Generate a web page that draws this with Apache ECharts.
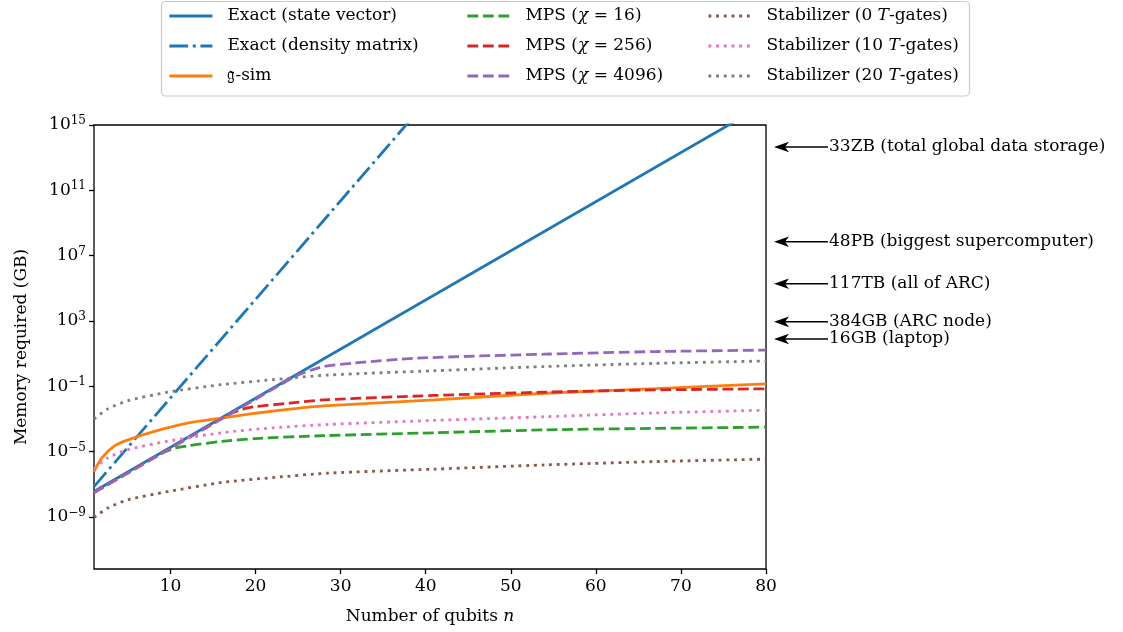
<!DOCTYPE html>
<html><head><meta charset="utf-8">
<script src="https://cdn.jsdelivr.net/npm/echarts@6/dist/echarts.min.js"></script>
<style>html,body{margin:0;padding:0;background:#fff}#c{width:1123px;height:632px}</style>
</head><body><div id="c"></div>
<script>
const FONT = 'DejaVu Serif';

// ---- data (memory in GB vs number of qubits n) ----
const exactSV_n = [1, 80];
const exactSV_v = [3.5e-8, 2.1e16];

const exactDM_n = [1, 40];
const exactDM_v = [7.1e-8, 2.5e16];

const gsim_n = [1, 1.9, 3.4, 5, 8, 12, 16, 20, 24, 28, 41, 54, 67, 80];
const gsim_v = [5.9e-7, 3.9e-6, 2.2e-5, 5.1e-5, 1.66e-4, 5.5e-4, 1.1e-3, 2.2e-3, 3.9e-3, 6.2e-3, 1.45e-2, 3.7e-2, 7.1e-2, 0.138];

const mps16_n = [1, 5, 9, 10.5, 12, 16, 20, 28, 41, 54, 67, 80];
const mps16_v = [3.1e-8, 5e-7, 8e-6, 1.6e-5, 2.2e-5, 4.1e-5, 6.2e-5, 9.3e-5, 1.4e-4, 2.1e-4, 2.6e-4, 3.1e-4];

const mps256_n = [1, 6, 11, 15, 17, 18.5, 20, 24, 28, 41, 54, 67, 80];
const mps256_v = [3.1e-8, 1e-6, 3.2e-5, 5.1e-4, 2.0e-3, 3.9e-3, 5.6e-3, 9.1e-3, 1.45e-2, 2.7e-2, 4.3e-2, 5.9e-2, 6.9e-2];

const mps4096_n = [1, 8, 15, 20, 23, 25, 26.5, 28, 31.5, 39, 54, 67, 80];
const mps4096_v = [3.1e-8, 3.9e-6, 5e-4, 1.6e-2, 0.13, 0.48, 0.95, 1.6, 2.6, 5.2, 9.1, 13.2, 16.2];

const stab0_n = [1, 2.6, 5, 9.7, 16, 22, 28.5, 41, 54, 67, 80];
const stab0_v = [8.9e-10, 3.4e-9, 1.1e-8, 3.5e-8, 1.26e-7, 2.5e-7, 4.7e-7, 8.3e-7, 1.5e-6, 2.4e-6, 3.4e-6];

const stab10_n = [1, 2.6, 5, 9.7, 16, 22, 28.5, 41, 54, 67, 80];
const stab10_v = [9e-7, 4e-6, 1.3e-5, 4.3e-5, 1.4e-4, 2.8e-4, 4.5e-4, 8e-4, 1.35e-3, 2.3e-3, 3.4e-3];

const stab20_n = [1, 2.6, 5, 9.7, 16, 22, 28.5, 41, 54, 67, 80];
const stab20_v = [9.5e-4, 4e-3, 1.3e-2, 4.3e-2, 0.125, 0.25, 0.48, 0.88, 1.6, 2.5, 3.5];

const xTicks = [10, 20, 30, 40, 50, 60, 70, 80];
const yTicks = [1e-9, 1e-5, 1e-1, 1e3, 1e7, 1e11, 1e15];
const yMin = Math.pow(10, -12.2);
const yMax = 1.001e15;

const annotLabels = ['33ZB (total global data storage)', '48PB (biggest supercomputer)', '117TB (all of ARC)', '384GB (ARC node)', '16GB (laptop)'];
const annotY = [4.5e13, 7.0e7, 1.9e5, 8.7e2, 78];

const names = ['Exact (state vector)', 'Exact (density matrix)', '\u{1D524}-sim',
  'MPS (χ = 16)', 'MPS (χ = 256)', 'MPS (χ = 4096)',
  'Stabilizer (0 T-gates)', 'Stabilizer (10 T-gates)', 'Stabilizer (20 T-gates)'];
const legendRich = {
  'MPS (χ = 16)': 'MPS ({i|χ} = 16)',
  'MPS (χ = 256)': 'MPS ({i|χ} = 256)',
  'MPS (χ = 4096)': 'MPS ({i|χ} = 4096)',
  'Stabilizer (0 T-gates)': 'Stabilizer (0 {i|T}-gates)',
  'Stabilizer (10 T-gates)': 'Stabilizer (10 {i|T}-gates)',
  'Stabilizer (20 T-gates)': 'Stabilizer (20 {i|T}-gates)'
};
const colors = ['#1f77b4', '#1f77b4', '#ff7f0e', '#2ca02c', '#d62728', '#9467bd', '#8c564b', '#e377c2', '#7f7f7f'];

// ---- build ----
const zip = (a, b) => a.map((x, i) => [x, b[i]]);
const dataSets = [
  zip(exactSV_n, exactSV_v), zip(exactDM_n, exactDM_v), zip(gsim_n, gsim_v),
  zip(mps16_n, mps16_v), zip(mps256_n, mps256_v), zip(mps4096_n, mps4096_v),
  zip(stab0_n, stab0_v), zip(stab10_n, stab10_v), zip(stab20_n, stab20_v)
];
const dashSolid = 'solid';
const dashDash = [10.8, 4.7];
const dashDot = [2.9, 4.8];
const dashDashDot = [18.7, 4.7, 2.9, 4.7];
const styles = [dashSolid, dashDashDot, dashSolid, dashDash, dashDash, dashDash, dashDot, dashDot, dashDot];
const smoothFlags = [false, false, 0.25, 0.25, 0.25, 0.25, 0.25, 0.25, 0.25];

const series = dataSets.map((d, i) => ({
  name: names[i], type: 'line', data: d, symbol: 'none', showSymbol: false,
  smooth: smoothFlags[i], clip: true, animation: false,
  lineStyle: { color: colors[i], width: 2.8, type: styles[i], cap: 'butt' },
  itemStyle: { color: colors[i] },
  z: 2 + i
}));

const textBase = { fontFamily: FONT, fontSize: 17, color: '#000' };
const richItalic = { i: { fontFamily: FONT, fontSize: 17, fontStyle: 'italic', color: '#000' } };

function mkLegend(items, left) {
  return {
    data: items, left: left, top: 6, orient: 'vertical', padding: 0,
    itemWidth: 43, itemHeight: 14, itemGap: 10,
    itemStyle: { opacity: 0 },
    lineStyle: { width: 2.8 },
    textStyle: Object.assign({}, textBase, { lineHeight: 20, padding: [0, 0, 0, 10], rich: richItalic }),
    formatter: n => legendRich[n] || n,
    selectedMode: false
  };
}

const yPow = v => Math.round(Math.log10(v));
const chart = echarts.init(document.getElementById('c'), null, { renderer: 'canvas' });
chart.setOption({
  animation: false,
  backgroundColor: '#fff',
  grid: { left: 94, right: 357, top: 125, bottom: 63, show: true, borderColor: '#000', borderWidth: 1.3, backgroundColor: 'transparent', containLabel: false },
  legend: [
    mkLegend(names.slice(0, 3), 168),
    mkLegend(names.slice(3, 6), 466),
    mkLegend(names.slice(6, 9), 707)
  ],
  xAxis: {
    type: 'value', min: 1, max: 80,
    name: 'Number of qubits {i|n}', nameLocation: 'middle', nameGap: 39,
    nameTextStyle: Object.assign({}, textBase, { rich: richItalic }),
    axisLine: { show: false },
    axisTick: { show: true, length: 5, lineStyle: { color: '#000', width: 1.3 }, customValues: xTicks },
    axisLabel: Object.assign({}, textBase, { margin: 9, customValues: xTicks, showMaxLabel: true }),
    splitLine: { show: false }
  },
  yAxis: {
    type: 'log', logBase: 10, min: yMin, max: yMax,
    name: 'Memory required (GB)', nameLocation: 'middle', nameGap: 64, nameRotate: 90,
    nameTextStyle: textBase,
    axisLine: { show: false },
    axisTick: { show: true, length: 5, lineStyle: { color: '#000', width: 1.3 }, customValues: yTicks },
    axisLabel: Object.assign({}, textBase, {
      margin: 8, customValues: yTicks, showMaxLabel: true, showMinLabel: true, hideOverlap: false,
      formatter: v => { const p = yPow(v); return '10{s|' + (p < 0 ? '\u2212' + (-p) : p) + '}'; },
      rich: { s: { fontFamily: FONT, fontSize: 12, color: '#000', verticalAlign: 'top', padding: [0, 0, 8, 0] } }
    }),
    splitLine: { show: false }
  },
  series: series
});

function drawAnnotations() {
  const xr = chart.convertToPixel({ xAxisIndex: 0 }, 80);
  const g = [];
  g.push({ type: 'rect', shape: { x: 161.5, y: 1.5, width: 808, height: 94.5, r: 4 },
    style: { fill: 'rgba(255,255,255,0.8)', stroke: '#cccccc', lineWidth: 1.2 }, z: -1, silent: true });
  annotY.forEach((v, i) => {
    const y = chart.convertToPixel({ yAxisIndex: 0 }, v);
    const tip = xr + 8, tail = xr + 62;
    g.push({ type: 'line', shape: { x1: tip + 10, y1: y, x2: tail, y2: y }, style: { stroke: '#000', lineWidth: 1.5 }, silent: true });
    g.push({ type: 'polygon', shape: { points: [[tip, y], [tip + 15, y - 5.3], [tip + 11, y], [tip + 15, y + 5.3]] }, style: { fill: '#000' }, silent: true });
    g.push({ type: 'text', x: tail + 1, y: y, style: { text: annotLabels[i], fill: '#000', font: '17px "' + FONT + '"', verticalAlign: 'middle', align: 'left' }, silent: true });
  });
  chart.setOption({ graphic: g });
}
drawAnnotations();
</script>
</body></html>
